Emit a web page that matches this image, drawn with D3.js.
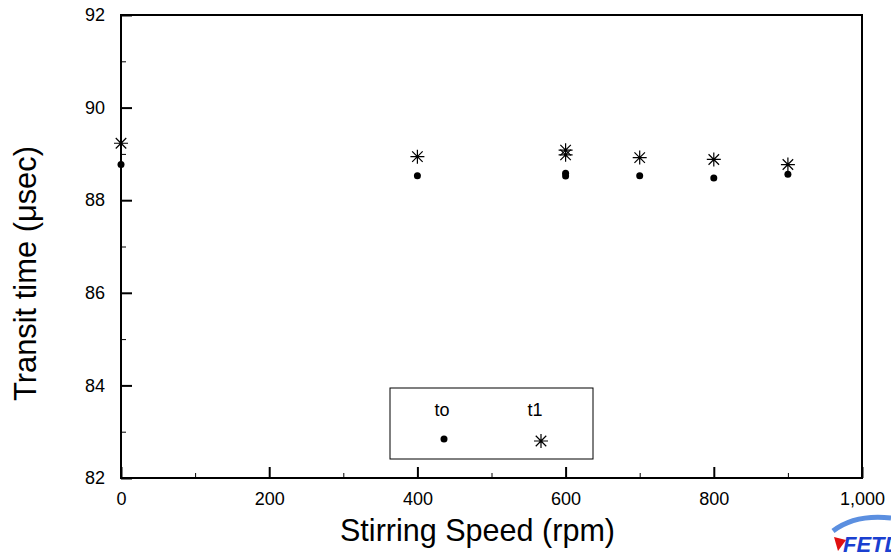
<!DOCTYPE html>
<html>
<head>
<meta charset="utf-8">
<script src="https://cdn.jsdelivr.net/npm/d3@7"></script>
<style>
  body { margin: 0; background: #fff; }
  text { font-family: "Liberation Sans", Arial, sans-serif; }
</style>
</head>
<body>
<svg id="chart" width="891" height="554"></svg>
<script>
// data
const speeds = [0, 400, 600, 600, 700, 800, 900]
const t0 = [88.77, 88.53, 88.58, 88.52, 88.53, 88.48, 88.56]
const t1 = [89.23, 88.94, 89.08, 88.98, 88.92, 88.88, 88.77]
const xTicks = [0, 200, 400, 600, 800, 1000]
const yTicks = [82, 84, 86, 88, 90, 92]
const legendLabels = ["to", "t1"]

const margin = {top: 15, right: 29, bottom: 76, left: 121}
const width = 891 - margin.left - margin.right
const height = 554 - margin.top - margin.bottom

const svg = d3.select('#chart')
const g = svg.append("g")
    .attr("transform", `translate(${margin.left},${margin.top})`)

const x = d3.scaleLinear().domain([0, 1000]).range([0, width])
const y = d3.scaleLinear().domain([82, 92]).range([height, 0])

// minor ticks
g.append("g")
    .attr("transform", `translate(0,${height})`)
    .call(d3.axisBottom(x).tickValues(d3.range(100, 1000, 200)).tickSizeInner(-5).tickSizeOuter(0).tickFormat(""))
    .call(a => a.select(".domain").remove())
g.append("g")
    .call(d3.axisLeft(y).tickValues(d3.range(83, 92, 2)).tickSizeInner(-5).tickSizeOuter(0).tickFormat(""))
    .call(a => a.select(".domain").remove())

// major ticks
const xAxis = g.append("g")
    .attr("transform", `translate(0,${height})`)
    .call(d3.axisBottom(x).tickValues(xTicks).tickSizeInner(-11).tickSizeOuter(0).tickPadding(14).tickFormat(d3.format(",")))
xAxis.select(".domain").remove()
xAxis.selectAll(".tick line").attr("stroke-width", 2)

const yAxis = g.append("g")
    .call(d3.axisLeft(y).tickValues(yTicks).tickSizeInner(-11).tickSizeOuter(0).tickPadding(16))
yAxis.select(".domain").remove()
yAxis.selectAll(".tick line").attr("stroke-width", 2)

svg.selectAll(".tick text").attr("font-size", 18).attr("fill", "#000")

// frame
g.append("rect")
    .attr("width", width).attr("height", height)
    .attr("fill", "none").attr("stroke", "#000").attr("stroke-width", 2)

// asterisk marker
function star(sel, s) {
    sel.append("path")
        .attr("d", `M${-s},0H${s}M0,${-s}V${s}M${-s*0.75},${-s*0.75}L${s*0.75},${s*0.75}M${-s*0.75},${s*0.75}L${s*0.75},${-s*0.75}`)
        .attr("stroke", "#000").attr("stroke-width", 1.2).attr("fill", "none")
}

g.selectAll("circle.t0")
    .data(speeds)
  .enter().append("circle")
    .attr("class", "t0")
    .attr("cx", d => x(d))
    .attr("cy", (d, i) => y(t0[i]))
    .attr("r", 3.5)
    .attr("fill", "#000")

g.selectAll("g.t1")
    .data(speeds)
  .enter().append("g")
    .attr("class", "t1")
    .attr("transform", (d, i) => `translate(${x(d)},${y(t1[i])})`)
    .each(function(){ star(d3.select(this), 7) })

// legend
const leg = svg.append("g").attr("transform", "translate(390,388)")
leg.append("rect").attr("width", 203).attr("height", 71)
    .attr("fill", "#fff").attr("stroke", "#000").attr("stroke-width", 1)
leg.selectAll("text")
    .data(legendLabels)
  .enter().append("text")
    .attr("x", (d, i) => 52 + i * 93)
    .attr("y", 28)
    .attr("text-anchor", "middle")
    .attr("font-size", 18)
    .text(d => d)
leg.append("circle").attr("cx", 54).attr("cy", 51).attr("r", 3.5).attr("fill", "#000")
star(leg.append("g").attr("transform", "translate(151,53)"), 7)

// axis titles
svg.append("text")
    .attr("x", 340).attr("y", 541)
    .attr("font-size", 32)
    .attr("textLength", 275).attr("lengthAdjust", "spacingAndGlyphs")
    .text("Stirring Speed (rpm)")
svg.append("text")
    .attr("transform", "translate(36,401) rotate(-90)")
    .attr("font-size", 31)
    .attr("textLength", 255).attr("lengthAdjust", "spacingAndGlyphs")
    .text("Transit time (μsec)")

// logo in corner
const logo = svg.append("g")
logo.append("path")
    .attr("d", "M833,531 Q855,514 891,518")
    .attr("stroke", "#5b8fe0").attr("stroke-width", 5).attr("fill", "none")
logo.append("text")
    .attr("x", 843).attr("y", 552)
    .attr("font-size", 22).attr("font-weight", "bold").attr("font-style", "italic")
    .attr("fill", "#1a3fd0")
    .text("FETD")
logo.append("path")
    .attr("d", "M834,537 L846,540 L838,551 Z")
    .attr("fill", "#e01010")
</script>
</body>
</html>
